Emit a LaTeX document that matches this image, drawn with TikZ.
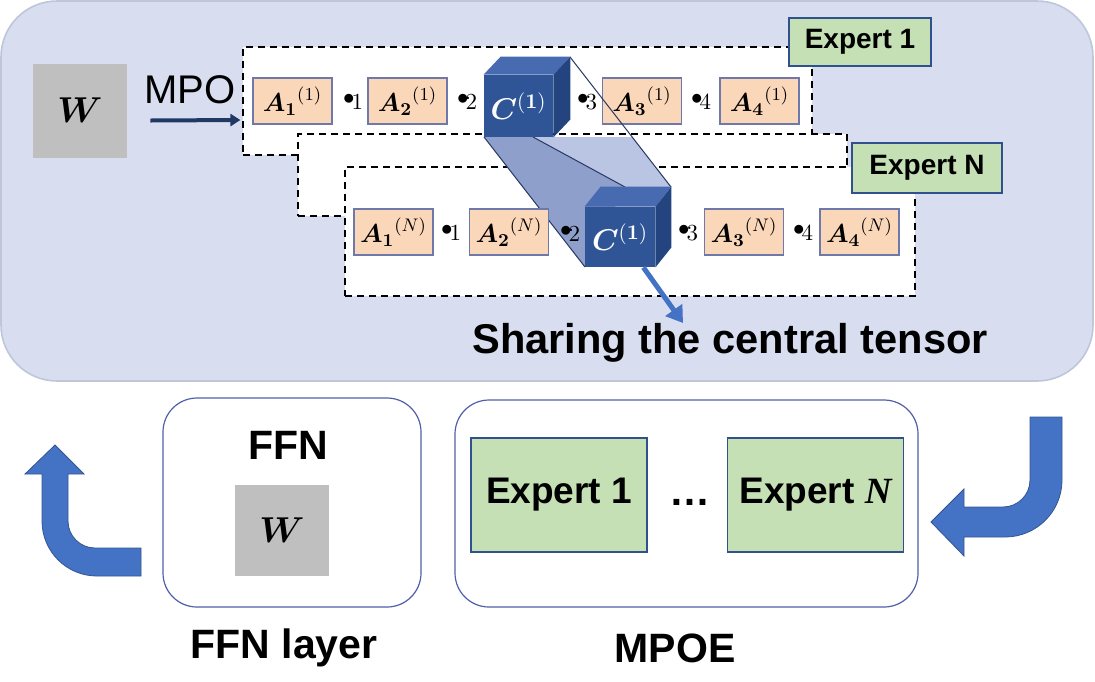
\RequirePackage{fix-cm}
\documentclass[tikz,border=0pt]{standalone}
\usepackage{bm}
\usepackage{fontspec}
\setmainfont{Liberation Sans}
\newfontfamily\serifit{Liberation Serif}
\usetikzlibrary{arrows.meta, calc}
\definecolor{panelBlue}{RGB}{216, 222, 240}
\definecolor{panelEdge}{RGB}{190, 198, 218}
\definecolor{wGray}{RGB}{191, 191, 191}
\definecolor{navyArrow}{RGB}{31, 56, 100}
\definecolor{tensorFill}{RGB}{251, 215, 185}
\definecolor{tensorEdge}{RGB}{110, 120, 170}
\definecolor{expertGreen}{RGB}{197, 224, 180}
\definecolor{expertEdge}{RGB}{47, 82, 143}
\definecolor{cubeFront}{RGB}{47, 85, 151}
\definecolor{cubeTop}{RGB}{72, 106, 176}
\definecolor{cubeSide}{RGB}{36, 68, 128}
\definecolor{prismDark}{RGB}{142, 159, 204}
\definecolor{prismLight}{RGB}{186, 197, 227}
\definecolor{prismLine}{RGB}{40, 55, 100}
\definecolor{blockBlue}{RGB}{68, 114, 196}
\definecolor{layerEdge}{RGB}{80, 95, 170}
\newcommand{\bondidx}[1]{\raisebox{2.5pt}{$\bullet$}\kern-1.5pt$#1$}
\newcommand{\tensorA}[2]{${\bm{A}_{\bm{#1}}}^{(#2)}$}

\begin{document}
\begin{tikzpicture}[x=0.5pt, y=-0.5pt,
    tensor/.style={rectangle, draw=tensorEdge, fill=tensorFill, line width=0.6pt, minimum width=39.5pt, minimum height=23pt, inner sep=0pt, font=\fontsize{13}{13}\selectfont},
    bond/.style={inner sep=0pt, font=\fontsize{11.5}{11.5}\selectfont},
    region/.style={rectangle, draw, dash pattern=on 3.5pt off 2.5pt, line width=0.6pt, fill=white, inner sep=0pt},
    tag/.style={rectangle, draw=expertEdge, fill=expertGreen, line width=0.8pt, inner sep=0pt, font=\bfseries\fontsize{14}{14}\selectfont},
    cubeface/.style={rectangle, fill=cubeFront, inner sep=0pt, text=white, font=\fontsize{15}{15}\selectfont},
    wbox/.style={rectangle, fill=wGray, minimum width=47pt, minimum height=47pt, inner sep=0pt, font=\fontsize{18}{18}\selectfont},
    layer/.style={rectangle, rounded corners=17pt, draw=layerEdge, fill=white, line width=0.6pt},
    expertbox/.style={rectangle, draw=expertEdge, fill=expertGreen, line width=0.8pt, minimum width=88pt, minimum height=57pt, inner sep=0pt, font=\bfseries\fontsize{18.5}{18.5}\selectfont},
    title/.style={inner sep=0pt, font=\bfseries\fontsize{20.5}{20.5}\selectfont},
    blockarrow/.style={fill=blockBlue, draw=blockBlue!75!black, line width=0.4pt},
    mpoarrow/.style={-{Triangle[length=5pt, width=6pt]}, line width=2pt, navyArrow},
    sharearrow/.style={-{Triangle[length=8pt, width=10pt]}, line width=2.5pt, blockBlue}]

    \useasboundingbox (0,0) rectangle (1095,681);

    % upper panel
    \draw[panelEdge, fill=panelBlue, line width=0.8pt, rounded corners=28pt] (1,1) rectangle (1093,381);

    \node[wbox] (wtop) at (80,110.5) {$\bm{W}$};
    \node[font=\fontsize{20}{20}\selectfont, inner sep=0pt] (mpo) at (190,90) {MPO};

    % dashed expert regions
    \node[region, minimum width=284.5pt, minimum height=54pt] (exp1) at (527.5,101) {};
    \node[region, minimum width=274.5pt, minimum height=41pt] (expmid) at (572.5,175) {};
    \node[region, minimum width=285pt, minimum height=64.5pt] (expN) at (630,231.5) {};

    \draw[mpoarrow] ($(wtop.east)+(23,10)$) -- ($(exp1.west)+(-2,19)$);

    % expert 1 chain
    \node[tensor] (a11) at (292.5,101) {\tensorA{1}{1}};
    \node[tensor] (a21) at (407.5,101) {\tensorA{2}{1}};
    \node[tensor] (a31) at (642,101) {\tensorA{3}{1}};
    \node[tensor] (a41) at (759.5,101) {\tensorA{4}{1}};
    \node[bond] (b11) at (353,102) {\bondidx{1}};
    \node[bond] (b21) at (467,102) {\bondidx{2}};
    \node[bond] (b31) at (587,102) {\bondidx{3}};
    \node[bond] (b41) at (701,102) {\bondidx{4}};

    % shared prism between the two central tensors
    \coordinate (p1) at (484,137);
    \coordinate (p2) at (533,137);
    \coordinate (p3) at (570,57);
    \coordinate (q1) at (585,267);
    \coordinate (q2) at (625,187);
    \coordinate (q3) at (671,187);
    \fill[prismDark] (p1) -- (p2) -- (q2) -- (q1) -- cycle;
    \fill[prismLight] (p2) -- (632,137) -- (q3) -- (q2) -- cycle;
    \draw[prismLine, line width=0.5pt] (p1) -- (q1) (p2) -- (q2) (p3) -- (q3);

    % central tensor of expert 1
    \node[cubeface, minimum width=34.5pt, minimum height=31pt] (c1) at (518.5,106) {$\bm{C}^{(\bm{1})}$};
    \fill[cubeTop] (c1.north west) -- ++(17,-18) -- ($(c1.north east)+(17,-18)$) -- (c1.north east) -- cycle;
    \fill[cubeSide] (c1.north east) -- ++(17,-18) -- ($(c1.south east)+(17,-18)$) -- (c1.south east) -- cycle;

    % expert N chain
    \node[tensor] (a1N) at (393.5,232) {\tensorA{1}{N}};
    \node[tensor] (a2N) at (509,232) {\tensorA{2}{N}};
    \node[tensor] (a3N) at (744,232) {\tensorA{3}{N}};
    \node[tensor] (a4N) at (859.5,232) {\tensorA{4}{N}};
    \node[bond] (b1N) at (451,233) {\bondidx{1}};
    \node[bond] (b2N) at (570,234) {\bondidx{2}};
    \node[bond] (b3N) at (688,233) {\bondidx{3}};
    \node[bond] (b4N) at (803,233) {\bondidx{4}};

    % central tensor shared by expert N
    \node[cubeface, minimum width=35pt, minimum height=30pt] (cN) at (620,237) {$\bm{C}^{(\bm{1})}$};
    \fill[cubeTop] (cN.north west) -- ++(16,-20) -- ($(cN.north east)+(16,-20)$) -- (cN.north east) -- cycle;
    \fill[cubeSide] (cN.north east) -- ++(16,-20) -- ($(cN.south east)+(16,-20)$) -- (cN.south east) -- cycle;

    \node[tag, minimum width=71pt, minimum height=24pt] (tag1) at (860,42) {Expert 1};
    \node[tag, minimum width=75pt, minimum height=25pt] (tagN) at (927,168) {Expert N};

    \node[title, font=\bfseries\fontsize{20.8}{20.8}\selectfont] (share) at (730,343) {Sharing the central tensor};
    \coordinate (sharetip) at (683,323);
    \draw[sharearrow] ($(cN.south west)!0.83!(cN.south east)$) -- (sharetip);

    % lower row
    \node[layer, minimum width=129pt, minimum height=104.5pt] (ffn) at (292,502.5) {};
    \node[title] (ffntitle) at (288,445) {FFN};
    \node[wbox, minimum height=45.5pt] (wbot) at (282,530.5) {$\bm{W}$};
    \node[title] (ffncap) at (284,648) {FFN layer};

    \node[layer, minimum width=231.5pt, minimum height=103.5pt] (mpoe) at (686.5,503.5) {};
    \node[expertbox] (e1) at (559,495) {Expert 1};
    \node[title] (dots) at (690,502) {…};
    \node[expertbox] (eN) at (815.5,495) {Expert {\serifit\itshape N}};
    \node[title] (mpoecap) at (675,648) {MPOE};

    % block arrows
    \fill[blockarrow] (141,548) -- (95,548) .. controls (80.1,548) and (68,535.9) .. (68,521) -- (68,474) -- (84,474) -- (55,445) -- (25,474) -- (42,474) -- (42,521) .. controls (42,551.4) and (66.6,576) .. (97,576) -- (141,576) -- cycle;
    \fill[blockarrow] (1030,417) -- (1062,417) -- (1062,480) .. controls (1062,511.5) and (1036.5,537) .. (1005,537) -- (964,537) -- (964,556) -- (931,522) -- (964,489) -- (964,507) -- (1003,507) .. controls (1017.9,507) and (1030,494.9) .. (1030,480) -- cycle;
\end{tikzpicture}
\end{document}
